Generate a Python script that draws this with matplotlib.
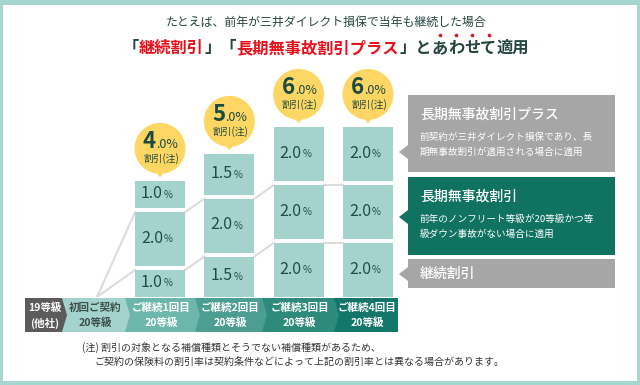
#
#   三井ダイレクト損保 - 継続割引 / 長期無事故割引 / プラス
#
# --------- Bibliotheken --------------
import numpy as np
import matplotlib
matplotlib.use('Agg')
import matplotlib.pyplot as plt
from matplotlib.patches import Rectangle, Polygon, Circle

plt.rcParams['font.family'] = ['Noto Sans CJK JP', 'DejaVu Sans']

# ======================================== Daten ===================================
stufen = ['ご継続1回目', 'ご継続2回目', 'ご継続3回目', 'ご継続4回目']
keizoku = [1.0, 1.5, 2.0, 2.0]      # 継続割引 (unten)
mujiko = [2.0, 2.0, 2.0, 2.0]       # 長期無事故割引 (mitte)
plus = [1.0, 1.5, 2.0, 2.0]         # 長期無事故割引プラス (oben)
gesamt = [4.0, 5.0, 6.0, 6.0]       # 割引 gesamt
ribbon_labels = ['19等級\n(他社)', '初回ご契約\n20等級', 'ご継続1回目\n20等級',
                 'ご継続2回目\n20等級', 'ご継続3回目\n20等級', 'ご継続4回目\n20等級']
panel_titles = ['長期無事故割引プラス', '長期無事故割引', '継続割引']
panel_texts = ['前契約が三井ダイレクト損保であり、長\n期無事故割引が適用される場合に適用',
               '前年のノンフリート等級が20等級かつ等\n級ダウン事故がない場合に適用',
               '']
titel1 = 'たとえば、前年が三井ダイレクト損保で当年も継続した場合'
fussnote = ['(注) 割引の対象となる補償種類とそうでない補償種類があるため、',
            'ご契約の保険料の割引率は契約条件などによって上記の割引率とは異なる場合があります。']

# ======================================== Farben ==================================
c_rahmen = '#a5d6d0'
c_box = '#a3d3cc'
c_boxtxt = '#1f4d46'
c_gelb = '#fdd663'
c_dunkel = '#1b4a40'
c_rot = '#e8101a'
c_titel = '#25463f'
c_linie = '#dcdcdc'
rib_colors = ['#5b5b5b', '#a3d3cc', '#6cb6ab', '#4d9e92', '#2e8a7b', '#13766a']
rib_txt = ['white', '#3e4f4c', 'white', 'white', 'white', 'white']
panel_cols = ['#a6a6a6', '#107362', '#a6a6a6']

# ======================================== Figur ===================================
W, H = 640, 385
fig = plt.figure(figsize=(6.4, 3.85), dpi=100)
ax = fig.add_axes([0, 0, 1, 1])
ax.set_xlim(0, W)
ax.set_ylim(H, 0)
ax.axis('off')

# Rahmen
ax.add_patch(Rectangle((0, 0), W, H, fc=c_rahmen, ec='none', zorder=0))
ax.add_patch(Rectangle((3, 5), W - 6, H - 9, fc='white', ec='none', zorder=0))

# Balken-Achse: y in %, x = Spaltenindex
px_pct = 27.0
col_x0, col_dx = 160, 69.33
y0_px = 297
axb = fig.add_axes([60 / W, (H - y0_px) / H, 340 / W, (y0_px - 60) / H])
axb.set_xlim((60 - col_x0) / col_dx, (400 - col_x0) / col_dx)
axb.set_ylim(0, (y0_px - 60) / px_pct)
axb.axis('off')
axb.patch.set_alpha(0)


def to_px(x, y):
    d = axb.transData.transform((x, y))
    return ax.transData.inverted().transform(d)


# ======================================== Balken ==================================
xs = np.arange(len(stufen))
w = 50 / col_dx
gap = 3.8 / px_pct
bottom = np.zeros(len(xs))
tops = []
for vals in [keizoku, mujiko, plus]:
    vals = np.array(vals)
    axb.bar(xs, vals, width=w, bottom=bottom, color=c_box, linewidth=0, zorder=3)
    for i in xs:
        ym = bottom[i] + vals[i] / 2
        axb.annotate(f'{vals[i]:.1f}', xy=(xs[i], ym), xytext=(3, 1),
                     textcoords='offset pixels', ha='right', va='center',
                     fontsize=11.5, weight='normal', color=c_boxtxt, zorder=4)
        axb.annotate('%', xy=(xs[i], ym), xytext=(4, 0),
                     textcoords='offset pixels', ha='left', va='center',
                     fontsize=7, color=c_boxtxt, zorder=4)
    tops.append(bottom + vals)
    bottom = bottom + vals + gap

# Verbindungslinien
for t in tops[:2]:
    for i in range(len(xs) - 1):
        axb.plot([xs[i] + w / 2, xs[i + 1] - w / 2], [t[i], t[i + 1]],
                 color=c_linie, lw=1.5, zorder=2)
    axb.plot([(97 - col_x0) / col_dx, xs[0] - w / 2], [0, t[0]],
             color=c_linie, lw=1.5, zorder=2)

# Blasen
for i in xs:
    cx, ctop = to_px(xs[i], tops[2][i])
    cy = ctop - 33
    ax.add_patch(Circle((cx, cy), 25.5, fc=c_gelb, ec='none', zorder=5))
    ax.add_patch(Polygon([[cx - 6, cy + 21], [cx + 6, cy + 21], [cx, cy + 29]],
                         closed=True, fc=c_gelb, ec='none', zorder=5))
    ganz, dez = f'{gesamt[i]:.1f}'.split('.')
    ax.text(cx - 4, cy, ganz, ha='right', va='baseline', fontsize=16,
            weight='bold', color=c_dunkel, zorder=6)
    ax.text(cx - 4, cy, '.' + dez + '%', ha='left', va='baseline', fontsize=9,
            color=c_dunkel, zorder=6)
    ax.text(cx + 1, cy + 10, '割引(注)', ha='center', va='center', fontsize=7,
            color=c_dunkel, zorder=6)

# ======================================== Band ====================================
rib_edges = [25, 62, 125, 195, 262, 334, 398]
ry0, ry1 = 298, 332
ym = (ry0 + ry1) / 2
tip = 5
for k in reversed(range(len(ribbon_labels))):
    x0, x1 = rib_edges[k], rib_edges[k + 1]
    if k < len(ribbon_labels) - 1:
        pts = [(x0, ry0), (x1, ry0), (x1 + tip, ym), (x1, ry1), (x0, ry1)]
    else:
        pts = [(x0, ry0), (x1, ry0), (x1, ry1), (x0, ry1)]
    ax.add_patch(Polygon(pts, closed=True, fc=rib_colors[k], ec='none', zorder=3))
    z1, z2 = ribbon_labels[k].split('\n')
    tx = (x0 + x1) / 2 + 1.5
    ax.text(tx, 308, z1, ha='center', va='center', fontsize=7.6, weight='bold',
            color=rib_txt[k], zorder=4)
    ax.text(tx, 323, z2, ha='center', va='center', fontsize=7.6, weight='bold',
            color=rib_txt[k], zorder=4)

# ======================================== Panels ==================================
px0, px1 = 408, 615
panel_y = [(95, 172, 152), (177, 255, 217), (259, 288, 274)]
for k in range(len(panel_titles)):
    ya, yb, yn = panel_y[k]
    pts = [(px0, ya), (px1, ya), (px1, yb), (px0, yb),
           (px0, yn + 7), (px0 - 9, yn), (px0, yn - 7)]
    ax.add_patch(Polygon(pts, closed=True, fc=panel_cols[k], ec='none', zorder=3))
    if panel_texts[k]:
        ax.text(420, ya + 20, panel_titles[k], ha='left', va='center', fontsize=10,
                weight='medium', color='white', zorder=4)
        l1, l2 = panel_texts[k].split('\n')
        ax.text(420, ya + 42, l1, ha='left', va='center', fontsize=6.9,
                color='white', zorder=4)
        ax.text(420, ya + 57, l2, ha='left', va='center', fontsize=6.9,
                color='white', zorder=4)
    else:
        ax.text(420, (ya + yb) / 2, panel_titles[k], ha='left', va='center',
                fontsize=10, weight='medium', color='white', zorder=4)

# ======================================== Titel ===================================
ax.text(326, 22, titel1, ha='center', va='center', fontsize=8.6, color=c_titel)

teile = [('「', c_titel), ('継続割引', c_rot), ('」「', c_titel),
         ('長期無事故割引プラス', c_rot), ('」と', c_titel), ('あ', c_titel),
         ('わ', c_titel), ('せ', c_titel), ('て', c_titel), ('適用', c_titel)]
r = fig.canvas.get_renderer()
texte = []
breiten = []
for s, c in teile:
    t = ax.text(0, 48, s, ha='left', va='center', fontsize=11.7, weight='bold',
                color=c, zorder=4)
    texte.append(t)
    breiten.append(t.get_window_extent(renderer=r).width)
x = 326 - sum(breiten) / 2
for k, t in enumerate(texte):
    t.set_x(x)
    if teile[k][0] in 'あわせて':
        ax.plot(x + breiten[k] / 2, 35, 'o', ms=2.6, color=c_rot, mec='none', zorder=4)
    x += breiten[k]

# ======================================== Fussnote ================================
ax.text(82, 348, fussnote[0], ha='left', va='center', fontsize=7.2, color='#333333')
ax.text(94, 362, fussnote[1], ha='left', va='center', fontsize=7.2, color='#333333')

fig.savefig('out.png', dpi=100)
